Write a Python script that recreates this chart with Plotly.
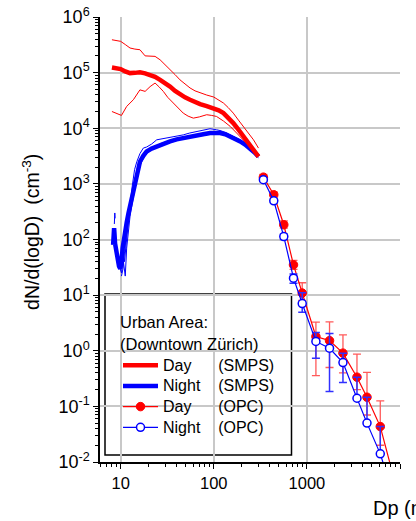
import plotly.graph_objects as go

# ---------------- SMPS size distributions (Dp in nm, dN/dlogD in cm^-3) ----------------
day_smps_dp = [8.06, 9.0, 10.0, 11.2, 12.6, 14.2, 16.1, 18.3, 20.7, 23.4, 26.5, 30.0, 33.9, 38.4,
               43.4, 49.1, 55.6, 62.9, 71.3, 84.0, 100, 113, 127, 143, 162, 184, 208, 236, 267, 302]
day_smps_mean = [1.24e5, 1.20e5, 1.16e5, 1.05e5, 9.8e4, 9.9e4, 1.01e5, 9.7e4, 9.2e4, 8.4e4, 7.4e4,
                 6.5e4, 5.6e4, 4.7e4, 4.0e4, 3.6e4, 3.26e4, 2.95e4, 2.72e4, 2.5e4, 2.3e4, 2.1e4,
                 1.87e4, 1.56e4, 1.24e4, 9.4e3, 7.1e3, 5.4e3, 4.1e3, 3.1e3]
day_smps_upper = [3.9e5, 3.8e5, 3.65e5, 3.2e5, 2.77e5, 2.65e5, 2.58e5, 2.0e5, 1.98e5, 1.96e5, 1.7e5,
                  1.4e5, 1.13e5, 9.2e4, 7.4e4, 6.2e4, 5.3e4, 4.7e4, 4.3e4, 3.95e4, 3.64e4, 3.25e4,
                  2.84e4, 2.35e4, 1.87e4, 1.4e4, 1.08e4, 8.2e3, 6.2e3, 4.4e3]
day_low_dp = [8.06, 9.1, 10.2, 11.6, 13.7, 16.1, 18.3, 20.7, 23.4, 26.0, 28.7, 32.0, 36.8, 41.0, 47.0,
              53.0, 60.3, 70.0, 83.9, 95.0, 107, 127, 150, 176, 208, 236, 267, 302]
day_smps_lower = [2.0e4, 1.87e4, 1.7e4, 2.47e4, 3.26e4, 4.9e4, 4.6e4, 5.6e4, 6.5e4, 5.5e4, 4.6e4,
                  3.6e4, 2.84e4, 2.3e4, 1.87e4, 1.65e4, 1.52e4, 1.6e4, 1.75e4, 1.7e4, 1.63e4,
                  1.35e4, 1.08e4, 8.2e3, 6.2e3, 4.9e3, 3.83e3, 3.2e3]

night_mean_dp = [8.3, 8.4, 8.5, 8.6, 8.7, 8.8, 9.0, 9.3, 9.6, 9.9, 10.2, 10.5, 10.8, 11.2, 11.6, 12.1,
                 12.6, 13.1, 13.7, 14.3, 14.9, 16.1, 17.5, 19.0, 21.5, 24.4, 28.5, 33.9, 40, 47, 55,
                 65.6, 77, 91, 104, 117, 133, 150, 170, 192, 217, 245, 272, 302]
night_smps_mean = [80, 150, 160, 120, 85, 75, 60, 45, 33, 30, 40, 70, 100, 140, 200, 290, 400, 560,
                   800, 1150, 1600, 2500, 3200, 3830, 4300, 4700, 5300, 5800, 6300, 6700, 7100,
                   7400, 7800, 8200, 8300, 8200, 7800, 7100, 6500, 5800, 5100, 4400, 3700, 3100]
night_up_dp = [8.55, 8.65, 8.72, None, 10.6, 11.0, 11.5, 12.1, 12.6, 13.3, 14.1, 14.9, 16.1, 17.5,
               19.0, 21.5, 24.4, 28.5, 33.9, 40, 47, 55, 65.6, 77, 91, 107, 120, 137, 160, 192,
               230, 267, 302]
night_smps_upper = [190, 300, 240, None, 55, 40, 90, 200, 420, 900, 1800, 2500, 3500, 4400, 4600,
                    5200, 6200, 6500, 6800, 7200, 7600, 8200, 8800, 9300, 9800, 9400, 9000, 8200,
                    7200, 6200, 4900, 4100, 3300]
night_a_dp = [10.2, 10.6, 11.0, 11.6, 12.1, 12.6, 13.3, 14.1, 14.9, 16.1, 17.5, 19.0, 21.5, 24.4,
              28.5, 33.9, 40, 47, 55, 65.6, 77, 91, 104, 117, 133, 150, 170, 192, 217, 245, 272, 302]
night_smps_a = [22, 30, 60, 150, 260, 420, 700, 1150, 1700, 2600, 3300, 3900, 4500, 5000, 5500,
                6000, 6500, 6900, 7300, 7700, 8100, 8500, 8600, 8500, 8100, 7400, 6700, 6000,
                5300, 4600, 3900, 3200]
night_b_dp = [9.8, 10.2, 10.6, 11.0, 11.2, 11.6, 12.1, 12.6, 13.1, 13.7, 14.3, 14.9, 16.1, 17.5,
              19.0, 21.5, 24.4, 28.5, 33.9, 40, 47, 55, 65.6, 77, 91, 104, 117, 133, 150, 170,
              192, 217, 245, 272, 302]
night_smps_b = [31, 25, 45, 28, 22, 70, 160, 260, 380, 600, 850, 1250, 2100, 2900, 3500, 4100,
                4500, 5100, 5600, 6100, 6500, 6900, 7200, 7600, 7900, 8000, 7900, 7500, 6900,
                6200, 5500, 4800, 4100, 3500, 2950]

# ---------------- OPC size distributions with variability ranges ----------------
opc_dp = [341, 441, 565, 718, 891, 1250, 1750, 2440, 3450, 4420, 6140, 8500]
day_opc = [1320, 637, 184, 35, 10.9, 1.8, 1.52, 0.906, 0.335, 0.146, 0.0433, 0.0055]
day_opc_hi = [1480, 720, 215, 42, 16.7, 3.27, 3.3, 1.93, 0.87, 0.41, 0.126, 0.0055]
day_opc_lo = [1180, 560, 160, 29, 8.0, 0.358, 0.5, 0.4, 0.2, 0.07, 0.02, 0.0055]
night_opc = [1190, 497, 113, 20.2, 7.06, 1.47, 1.11, 0.614, 0.14, 0.05, 0.014, 0.0025]
night_opc_hi = [1270, 540, 125, 24, 11.0, 2.12, 2.05, 0.906, 0.335, 0.146, 0.0433, 0.0025]
night_opc_lo = [1100, 460, 100, 16.4, 4.9, 0.736, 0.185, 0.268, 0.14, 0.05, 0.014, 0.0025]

# decade ticks
x_ticks = [10, 100, 1000, 10000]
x_labels = ["10", "100", "1000", "10000"]
y_ticks = [1e-2, 1e-1, 1e0, 1e1, 1e2, 1e3, 1e4, 1e5, 1e6]
y_labels = ["10<sup>-2</sup>", "10<sup>-1</sup>", "10<sup>0</sup>", "10<sup>1</sup>", "10<sup>2</sup>",
            "10<sup>3</sup>", "10<sup>4</sup>", "10<sup>5</sup>", "10<sup>6</sup>"]

RED = "#ff0000"
BLUE = "#0000ff"
FONT = "Arial, Liberation Sans, sans-serif"
NB = "\u00a0"


def entry(label, instrument, pad):
    # legend text rendered at 16px while the legend rows stay compact
    return '<span style="font-size:16px">' + label + NB * pad + instrument + "</span>"


x_minor = [m * 10 ** e for e in range(0, 4) for m in range(2, 10)]
y_minor = [m * 10.0 ** e for e in range(-2, 6) for m in range(2, 10)]

fig = go.Figure()

# Night SMPS: individual curves and mean
for xs, ys in [(night_up_dp, night_smps_upper), (night_a_dp, night_smps_a), (night_b_dp, night_smps_b)]:
    fig.add_trace(go.Scatter(x=xs, y=ys, mode="lines", line=dict(color=BLUE, width=1),
                             showlegend=False, hoverinfo="skip"))
fig.add_trace(go.Scatter(x=night_mean_dp, y=night_smps_mean, mode="lines",
                         line=dict(color=BLUE, width=4.5),
                         name=entry("Night", "(SMPS)", 4), legendrank=2))

# Day SMPS: range and mean
fig.add_trace(go.Scatter(x=day_smps_dp, y=day_smps_upper, mode="lines", line=dict(color=RED, width=1),
                         showlegend=False, hoverinfo="skip"))
fig.add_trace(go.Scatter(x=day_low_dp, y=day_smps_lower, mode="lines", line=dict(color=RED, width=1),
                         showlegend=False, hoverinfo="skip"))
fig.add_trace(go.Scatter(x=day_smps_dp, y=day_smps_mean, mode="lines",
                         line=dict(color=RED, width=4.5),
                         name=entry("Day", "(SMPS)", 6), legendrank=1))

# OPC day / night with error bars
fig.add_trace(go.Scatter(
    x=opc_dp, y=day_opc, mode="lines+markers",
    line=dict(color=RED, width=1.2),
    marker=dict(symbol="circle", size=8.5, color=RED, line=dict(color=RED, width=1)),
    error_y=dict(type="data", symmetric=False,
                 array=[h - v for h, v in zip(day_opc_hi, day_opc)],
                 arrayminus=[v - l for v, l in zip(day_opc, day_opc_lo)],
                 color="#ff5a5a", thickness=1.3, width=4),
    name=entry("Day", "(OPC)", 6), legendrank=3))
fig.add_trace(go.Scatter(
    x=opc_dp, y=night_opc, mode="lines+markers",
    line=dict(color=BLUE, width=1.2),
    marker=dict(symbol="circle", size=8, color="white", line=dict(color=BLUE, width=1.5)),
    error_y=dict(type="data", symmetric=False,
                 array=[h - v for h, v in zip(night_opc_hi, night_opc)],
                 arrayminus=[v - l for v, l in zip(night_opc, night_opc_lo)],
                 color="#3030ff", thickness=1.5, width=4),
    name=entry("Night", "(OPC)", 4), legendrank=4))

x_range = [0.778, 4.0]
y_range = [-2, 6]

axis_common = dict(type="log", showline=True, linecolor="black", linewidth=1.5,
                   ticks="outside", tickcolor="black", ticklen=5, tickwidth=1.2,
                   zeroline=False)

fig.update_layout(
    width=416, height=521,
    margin=dict(l=100, r=16, t=17, b=59),
    paper_bgcolor="white", plot_bgcolor="white",
    template="none",
    font=dict(family=FONT, color="black"),
    xaxis=dict(**axis_common, range=x_range, tickvals=x_ticks, ticktext=x_labels,
               tickfont=dict(size=16.5, family=FONT),
               showgrid=True, gridcolor="#c8c8c8", gridwidth=1.5,
               minor=dict(tickvals=x_minor, ticks="outside", ticklen=3, tickcolor="black",
                          tickwidth=1, showgrid=False)),
    yaxis=dict(**axis_common, range=y_range, tickvals=y_ticks, ticktext=y_labels,
               tickfont=dict(size=18, family=FONT),
               showgrid=True, gridcolor="#c8c8c8", gridwidth=1.5,
               minor=dict(tickvals=y_minor, ticks="outside", ticklen=3, tickcolor="black",
                          tickwidth=1, showgrid=False)),
    xaxis2=dict(type="log", overlaying="x", side="top", anchor="y", range=x_range,
                showline=True, linecolor="black", linewidth=1.5, showgrid=False, zeroline=False,
                tickvals=x_ticks, ticks="inside", ticklen=5, tickcolor="black", showticklabels=False,
                minor=dict(tickvals=x_minor, ticks="inside", ticklen=3, tickcolor="black", showgrid=False)),
    yaxis2=dict(type="log", overlaying="y", side="right", anchor="x", range=y_range,
                showline=True, linecolor="black", linewidth=1.5, showgrid=False, zeroline=False,
                tickvals=y_ticks, ticks="inside", ticklen=5, tickcolor="black", showticklabels=False,
                minor=dict(tickvals=y_minor, ticks="inside", ticklen=3, tickcolor="black", showgrid=False)),
    legend=dict(x=(118 - 100) / 300, y=(462 - 307) / 445, xanchor="left", yanchor="top",
                bgcolor="rgba(0,0,0,0)", borderwidth=0,
                font=dict(size=13.6, family=FONT, color="black"),
                title=dict(text="Urban Area:<br>(Downtown Zürich)", font=dict(size=16.5, family=FONT)),
                itemwidth=35, tracegroupgap=0),
    showlegend=True,
)

# legend frame
fig.add_shape(type="rect", xref="paper", yref="paper",
              x0=(105 - 100) / 300, x1=(291.5 - 100) / 300,
              y0=(462 - 455) / 445, y1=(462 - 294) / 445,
              line=dict(color="black", width=1.5), fillcolor="white", layer="between")

# axis titles
fig.add_annotation(text="dN/d(logD)" + NB * 2 + "(cm<sup>-3</sup>)", xref="paper", yref="paper",
                   x=(31 - 100) / 300, y=0.517, textangle=-90, showarrow=False,
                   xanchor="center", yanchor="middle", font=dict(size=19.5, family=FONT))
fig.add_annotation(text="Dp (nm)", xref="paper", yref="paper",
                   x=(371 - 100) / 300, y=-(508 - 462) / 445, showarrow=False,
                   xanchor="left", yanchor="middle", font=dict(size=20, family=FONT))

fig.write_html("out.html")
